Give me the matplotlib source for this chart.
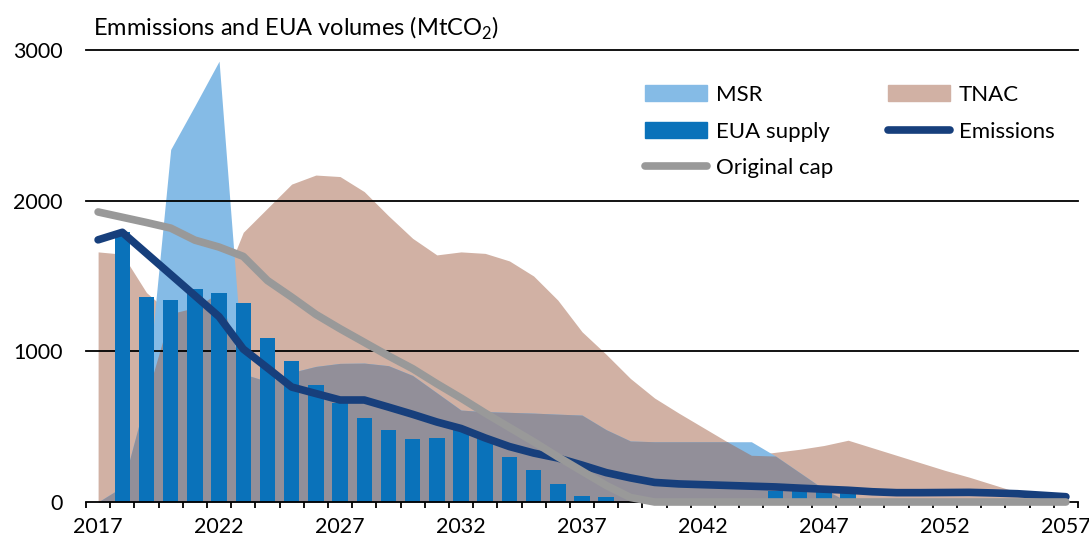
import matplotlib
matplotlib.use('Agg')
import matplotlib.pyplot as plt
from matplotlib.patches import Patch
from matplotlib.lines import Line2D
import numpy as np

plt.rcParams['font.family'] = ['Lato', 'DejaVu Sans']
plt.rcParams['mathtext.fontset'] = 'custom'
plt.rcParams['mathtext.rm'] = 'Lato'

# Werte (MtCO2)
years = list(range(2017, 2058))

msr = [0, 100, 700, 2340, 2630, 2926, 850, 800, 860, 900,
       920, 922, 905, 840, 725, 610, 600, 595, 590, 583,
       577, 480, 405, 400, 400, 400, 400, 400, 305, 195,
       85, 0, 0, 0, 0, 0, 0, 0, 0, 0, 0]

tnac = [1660, 1645, 1390, 1250, 1290, 1390, 1790, 1950, 2110, 2170,
        2160, 2060, 1900, 1750, 1640, 1660, 1650, 1600, 1500, 1340,
        1130, 980, 820, 690, 590, 495, 400, 310, 330, 350,
        375, 410, 360, 310, 260, 210, 165, 115, 65, 45, 30]

eua_supply = [0, 1790, 1360, 1340, 1413, 1388, 1320, 1088, 935, 776,
              660, 557, 478, 418, 424, 491, 420, 300, 212, 120,
              40, 33, 0, 0, 0, 0, 0, 0, 70, 70,
              70, 100, 0, 0, 0, 0, 0, 0, 0, 0, 0]

emissions = [1740, 1790, 1650, 1510, 1370, 1230, 1015, 890, 763, 720,
             677, 677, 630, 582, 531, 488, 425, 368, 325, 292,
             245, 195, 160, 130, 120, 115, 110, 105, 100, 92,
             85, 78, 68, 62, 62, 63, 64, 60, 55, 45, 35]

original_cap = [1925, 1890, 1855, 1818, 1738, 1692, 1630, 1470, 1360, 1245,
                1150, 1060, 970, 885, 785, 690, 590, 495, 400, 300,
                205, 110, 30, 0, 0, 0, 0, 0, 0, 0,
                0, 0, 0, 0, 0, 0, 0, 0, 0, 0, 0]

label_years = list(range(2017, 2058, 5))

c_msr = '#85bbe6'
c_tnac = '#d1b1a4'
c_overlap = '#928f99'
c_eua = '#0a72ba'
c_em = '#173f7c'
c_cap = '#999999'

fig = plt.figure(figsize=(10.89, 5.42), dpi=100)
ax = fig.add_axes([86 / 1089, 40 / 542, (1078 - 86) / 1089, 452 / 542])

x = np.array(years)
msr_a = np.array(msr)
tnac_a = np.array(tnac)

ax.fill_between(x, 0, tnac_a, color=c_tnac, lw=0, zorder=1)
ax.fill_between(x, 0, msr_a, color=c_msr, lw=0, zorder=1.1)
# wo sich MSR und TNAC ueberlagern -> grau
ax.fill_between(x, 0, np.minimum(msr_a, tnac_a), color=c_overlap, lw=0, zorder=1.2)

for yv in [1000, 2000, 3000]:
    ax.axhline(yv, color='black', lw=1.3, zorder=1.5, clip_on=False)

ax.bar(x, eua_supply, width=0.64, color=c_eua, zorder=2)
ax.plot(x, emissions, color=c_em, lw=5.5, solid_capstyle='round', zorder=3, clip_on=False)
ax.plot(x, original_cap, color=c_cap, lw=5.5, solid_capstyle='round', zorder=4, clip_on=False)

ax.set_xlim(2016.5, 2057.5)
ax.set_ylim(0, 3000)

for s in ['top', 'right', 'left']:
    ax.spines[s].set_visible(False)
ax.spines['bottom'].set_linewidth(1.3)
ax.spines['bottom'].set_zorder(2.5)

ax.set_yticks([0, 1000, 2000, 3000])
ax.tick_params(axis='y', length=0, pad=17, labelsize=15.5)
ax.set_xticks(label_years)
ax.set_xticks(np.arange(2016.5, 2058, 1), minor=True)
ax.tick_params(axis='x', which='major', length=0, pad=11, labelsize=15.5)
ax.tick_params(axis='x', which='minor', length=4.5, width=1.3, direction='out')

fig.text(93 / 1089, 1 - 28 / 542, 'Emmissions and EUA volumes (MtCO$_2$)',
         va='center', ha='left', fontsize=17)

handles = [Patch(color=c_msr), Patch(color=c_eua),
           Line2D([], [], color=c_cap, lw=5.5, solid_capstyle='round'),
           Patch(color=c_tnac),
           Line2D([], [], color=c_em, lw=5.5, solid_capstyle='round')]
labels = ['MSR', 'EUA supply', 'Original cap', 'TNAC', 'Emissions']
fig.legend(handles, labels, ncol=2, loc='upper left',
           bbox_to_anchor=(636 / 1089, 1 - 76 / 542), frameon=False,
           fontsize=16, handlelength=2.8, handletextpad=0.4,
           columnspacing=2.45, labelspacing=0.75, borderaxespad=0)

fig.savefig('out.png', dpi=100)
